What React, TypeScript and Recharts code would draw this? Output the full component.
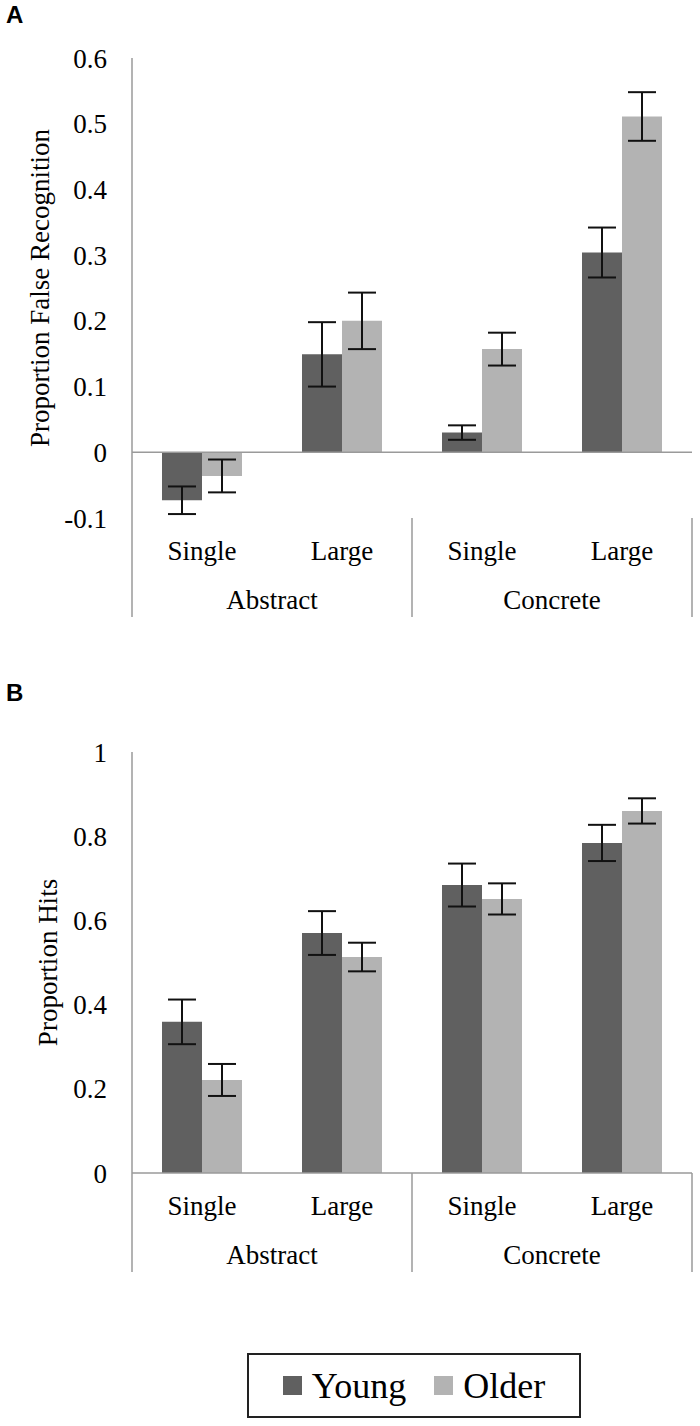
import { Bar, BarChart, ErrorBar, Legend, ReferenceLine, XAxis, YAxis } from "recharts";

const conditions = ["Single", "Large", "Single", "Large"];
const groups = ["Abstract", "Abstract", "Concrete", "Concrete"];
const seriesNames = ["Young", "Older"];

const falseYoung = [-0.073, 0.149, 0.03, 0.304];
const falseYoungErr = [0.021, 0.049, 0.011, 0.038];
const falseOlder = [-0.036, 0.2, 0.157, 0.511];
const falseOlderErr = [0.025, 0.043, 0.025, 0.037];

const hitsYoung = [0.359, 0.57, 0.684, 0.784];
const hitsYoungErr = [0.053, 0.052, 0.051, 0.043];
const hitsOlder = [0.221, 0.513, 0.651, 0.86];
const hitsOlderErr = [0.038, 0.034, 0.037, 0.03];

const falseTicks = [-0.1, 0, 0.1, 0.2, 0.3, 0.4, 0.5, 0.6];
const hitsTicks = [0, 0.2, 0.4, 0.6, 0.8, 1];

const serif = "'Liberation Serif', 'Times New Roman', serif";
const DARK = "#606060";
const LIGHT = "#b3b3b3";
const AXIS = "#9a9a9a";

const W = 700;
const PLOT_LEFT = 132;
const PLOT_RIGHT = 692;
const BAND = (PLOT_RIGHT - PLOT_LEFT) / conditions.length;

const falseData = conditions.map((c, i) => ({
  cond: c,
  young: falseYoung[i],
  youngErr: falseYoungErr[i],
  older: falseOlder[i],
  olderErr: falseOlderErr[i],
}));

const hitsData = conditions.map((c, i) => ({
  cond: c,
  young: hitsYoung[i],
  youngErr: hitsYoungErr[i],
  older: hitsOlder[i],
  olderErr: hitsOlderErr[i],
}));

const CategoryTick = (props: any) => {
  const { x, payload, index, plotBottom } = props;
  const lineBottom = plotBottom + 99;
  return (
    <g>
      <text x={x} y={plotBottom + 42} textAnchor="middle" fontFamily={serif} fontSize={27} fill="#000">
        {payload.value}
      </text>
      {index % 2 === 0 && (
        <>
          <text x={x + BAND / 2} y={plotBottom + 91} textAnchor="middle" fontFamily={serif} fontSize={27} fill="#000">
            {groups[index]}
          </text>
          <line x1={x - BAND / 2} x2={x - BAND / 2} y1={plotBottom} y2={lineBottom} stroke={AXIS} strokeWidth={1.5} />
        </>
      )}
      {index === conditions.length - 1 && (
        <line x1={x + BAND / 2} x2={x + BAND / 2} y1={plotBottom} y2={lineBottom} stroke={AXIS} strokeWidth={1.5} />
      )}
    </g>
  );
};

const yTitle = (text: string, cx: number, cy: number) => () =>
  (
    <text
      x={cx}
      y={cy}
      transform={`rotate(-90, ${cx}, ${cy})`}
      textAnchor="middle"
      dominantBaseline="central"
      fontFamily={serif}
      fontSize={27}
      fill="#000"
    >
      {text}
    </text>
  );

const LegendBox = ({ payload }: any) => {
  const items = [...(payload || [])].sort(
    (a: any, b: any) => seriesNames.indexOf(a.value) - seriesNames.indexOf(b.value)
  );
  return (
    <div
      style={{
        display: "flex",
        justifyContent: "center",
        alignItems: "center",
        height: "100%",
        fontFamily: serif,
        fontSize: 36,
        color: "#000",
      }}
    >
      {items.map((e: any, i: number) => (
        <span key={e.value} style={{ display: "flex", alignItems: "center", marginLeft: i ? 28 : 0 }}>
          <span style={{ width: 19, height: 19, background: e.color, marginRight: 10, display: "inline-block" }} />
          {e.value}
        </span>
      ))}
    </div>
  );
};

const panelLetter = (letter: string, top: number) => (
  <div
    style={{
      position: "absolute",
      left: 6,
      top,
      fontFamily: "'Liberation Sans', Arial, sans-serif",
      fontWeight: "bold",
      fontSize: 24,
      lineHeight: "24px",
    }}
  >
    {letter}
  </div>
);

const bars = [
  <Bar key="y" dataKey="young" name="Young" fill={DARK} isAnimationActive={false}>
    <ErrorBar dataKey="youngErr" direction="y" width={14} strokeWidth={2} stroke="#111" />
  </Bar>,
  <Bar key="o" dataKey="older" name="Older" fill={LIGHT} isAnimationActive={false}>
    <ErrorBar dataKey="olderErr" direction="y" width={14} strokeWidth={2} stroke="#111" />
  </Bar>,
];

export default function App() {
  // panel A: plot 58..518, panel B: plot 752..1173 (page coords)
  const aTop = 58;
  const aHeight = 640;
  const aAxisH = 122;
  const aBottom = aHeight - aAxisH;

  const bOffset = 700;
  const bTop = 52;
  const bHeight = 726;
  const bAxisH = 130;
  const bMarginBottom = 123;
  const bBottom = bHeight - bAxisH - bMarginBottom;

  return (
    <div style={{ position: "absolute", left: 0, top: 0, width: W, height: 1426, background: "#fff" }}>
      {panelLetter("A", 3)}
      {panelLetter("B", 681)}

      <div style={{ position: "absolute", left: 0, top: 0 }}>
        <BarChart
          width={W}
          height={aHeight}
          data={falseData}
          margin={{ top: aTop, right: W - PLOT_RIGHT, left: 0, bottom: 0 }}
          barCategoryGap={30}
          barGap={0}
        >
          <XAxis
            dataKey="cond"
            height={aAxisH}
            axisLine={false}
            tickLine={false}
            interval={0}
            tick={(p: any) => <CategoryTick {...p} plotBottom={aBottom} />}
          />
          <YAxis
            width={PLOT_LEFT}
            domain={[-0.1, 0.6]}
            ticks={falseTicks}
            interval={0}
            axisLine={{ stroke: AXIS, strokeWidth: 1.5 }}
            tickLine={false}
            tickSize={0}
            tickMargin={25}
            tick={{ fontSize: 27, fill: "#000", fontFamily: serif }}
            label={yTitle("Proportion False Recognition", 40, (aTop + aBottom) / 2)}
          />
          <ReferenceLine y={0} stroke={AXIS} strokeWidth={1.5} />
          {bars}
        </BarChart>
      </div>

      <div style={{ position: "absolute", left: 0, top: bOffset }}>
        <BarChart
          width={W}
          height={bHeight}
          data={hitsData}
          margin={{ top: bTop, right: W - PLOT_RIGHT, left: 0, bottom: bMarginBottom }}
          barCategoryGap={30}
          barGap={0}
        >
          <XAxis
            dataKey="cond"
            height={bAxisH}
            axisLine={false}
            tickLine={false}
            interval={0}
            tick={(p: any) => <CategoryTick {...p} plotBottom={bBottom} />}
          />
          <YAxis
            width={PLOT_LEFT}
            domain={[0, 1]}
            ticks={hitsTicks}
            interval={0}
            axisLine={{ stroke: AXIS, strokeWidth: 1.5 }}
            tickLine={false}
            tickSize={0}
            tickMargin={25}
            tick={{ fontSize: 27, fill: "#000", fontFamily: serif }}
            label={yTitle("Proportion Hits", 48, (bTop + bBottom) / 2)}
          />
          <ReferenceLine y={0} stroke={AXIS} strokeWidth={1.5} />
          {bars}
          <Legend
            layout="horizontal"
            verticalAlign="middle"
            align="center"
            width={334}
            height={65}
            wrapperStyle={{
              top: 1353 - bOffset,
              left: 247,
              border: "2px solid #222",
              boxSizing: "border-box",
            }}
            content={<LegendBox />}
          />
        </BarChart>
      </div>
    </div>
  );
}
